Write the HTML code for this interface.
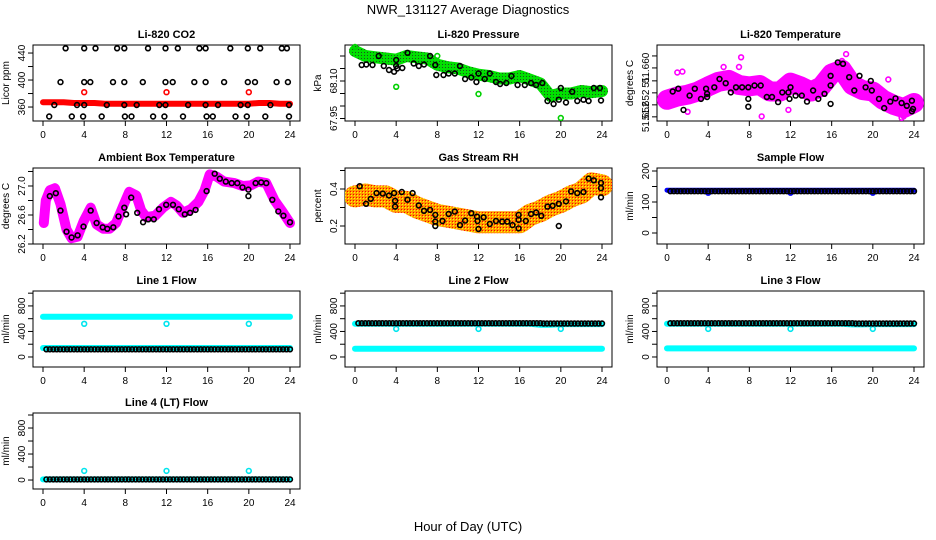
<!DOCTYPE html>
<html><head><meta charset="utf-8"><style>
html,body{margin:0;padding:0;background:#fff;}
svg{display:block;font-family:"Liberation Sans",Arial,sans-serif;}
</style></head><body>
<svg id="chart" width="936" height="540" viewBox="0 0 936 540">
<defs>
<pattern id="pgreen" width="3" height="3" patternUnits="userSpaceOnUse"><rect width="3" height="3" fill="#00e000"/><rect x="1" y="1" width="1" height="1" fill="#205020"/></pattern>
<pattern id="porange" width="3" height="3" patternUnits="userSpaceOnUse"><rect width="3" height="3" fill="#ff9a00"/><rect x="0" y="0" width="1" height="1" fill="#ffff00"/><rect x="2" y="2" width="1" height="1" fill="#ff0000"/></pattern>
</defs>
<text x="468" y="14" text-anchor="middle" font-size="13">NWR_131127  Average Diagnostics</text>
<text x="468" y="531" text-anchor="middle" font-size="13">Hour of Day (UTC)</text>
</svg>
<script>
// ---- data ----
const hours = [0,1,2,3,4,5,6,7,8,9,10,11,12,13,14,15,16,17,18,19,20,21,22,23,24];
const xTicks = [0,4,8,12,16,20,24];

const co2Band = [367,367,367,366,366,366,365,365,365,365,365,365,365,365,365,365,365,365,365,365,365,366,366,365,365];
const co2Hi447T = [2.2,4.0,5.1,7.2,7.9,10.2,11.9,13.1,15.2,15.8,18.2,19.9,21.1,23.2,23.7];
const co2Hi397T = [1.7,4.0,4.6,6.8,7.9,9.7,11.9,12.6,14.7,15.8,17.6,19.9,20.6,22.7,23.8];
const co2Mid363T = [1.1,3.3,4.0,6.2,7.9,9.1,11.3,11.9,14.1,15.8,17.0,19.2,19.9,22.1,23.9];
const co2Lo346T = [0.6,2.8,3.9,5.7,7.96,8.6,10.7,11.8,13.6,15.9,16.5,18.7,19.8,21.6,23.9];
const co2Levels = [447,397,363,346];
const co2OutT = [4,12,20];
const co2OutV = [382,382,382];

const presBand = [68.22,68.20,68.195,68.19,68.185,68.20,68.195,68.19,68.165,68.155,68.15,68.135,68.125,68.12,68.11,68.11,68.12,68.105,68.09,68.04,68.05,68.05,68.06,68.055,68.06];
const presT = [0.65,1.1,1.7,2.3,2.8,3.3,3.8,4.0,4.0,4.1,4.6,5.1,5.7,6.2,6.7,7.3,7.8,7.9,8.6,9.1,9.7,10.2,10.7,11.3,11.8,12.0,12.6,13.1,13.7,14.1,14.7,15.2,15.8,16.5,17.1,17.6,18.2,18.7,19.3,19.8,20.0,20.5,21.1,21.6,22.2,22.7,23.2,23.8,23.9];
const presV = [68.164,68.166,68.164,68.20,68.16,68.144,68.137,68.184,68.16,68.15,68.152,68.213,68.17,68.16,68.166,68.20,68.164,68.124,68.124,68.13,68.13,68.16,68.108,68.114,68.096,68.13,68.108,68.13,68.096,68.088,68.092,68.12,68.084,68.084,68.092,68.084,68.092,68.02,68.008,68.025,68.072,68.014,68.057,68.02,68.025,68.02,68.072,68.072,68.022];
const presOutT = [0,4,8,12,20];
const presOutV = [68.236,68.077,68.20,68.048,67.952];

const tempTicks = [51.6494,51.652,51.6546,51.6572,51.660,51.6626];
const tempTickLabels = ['51.652','51.652','','51.','51.660',''];
const tempBand = [51.6531,51.6538,51.6542,51.6549,51.6560,51.6570,51.6574,51.6563,51.6560,51.6563,51.6549,51.6549,51.6568,51.6560,51.6549,51.6560,51.6588,51.6596,51.6563,51.6552,51.6549,51.6531,51.6520,51.6513,51.6524];
const tempT = [0.55,1.1,1.6,2.2,2.7,3.3,3.8,3.9,3.9,4.6,5.1,5.7,6.2,6.7,7.3,7.9,7.9,7.9,8.5,9.1,9.7,10.2,10.8,11.2,11.8,11.9,12.0,12.5,13.1,13.6,14.2,14.7,15.3,15.9,15.9,15.9,16.6,17.1,17.7,18.2,18.7,19.3,19.8,19.9,20.6,21.1,21.7,22.2,22.8,23.3,23.8,23.9,23.8];
const tempV = [51.6549,51.6555,51.6509,51.6540,51.6555,51.6533,51.6555,51.6544,51.6537,51.6558,51.6576,51.6567,51.6547,51.6558,51.6558,51.6533,51.6516,51.6558,51.6562,51.6562,51.6537,51.6537,51.6526,51.6547,51.6547,51.6533,51.6558,51.6540,51.6540,51.6527,51.6551,51.6533,51.6544,51.6562,51.6583,51.6522,51.6612,51.6609,51.6580,51.6551,51.6583,51.6558,51.6572,51.6551,51.6533,51.6513,51.6527,51.6534,51.6524,51.6518,51.6529,51.6511,51.6506];
const tempOutT = [1.0,1.5,7.2,7.0,17.4,17.0,9.2,11.8,21.5,2.0,22.8,23.0,5.5];
const tempOutV = [51.6590,51.6592,51.6623,51.6602,51.6630,51.6615,51.6495,51.6509,51.6575,51.6505,51.6492,51.6495,51.6602];

const ambBandT = [0.08,0.27,0.66,1.16,1.7,2.28,2.78,3.36,3.94,4.63,5.21,5.87,6.45,7.1,7.8,8.38,9.07,9.54,10.04,10.9,11.66,12.43,13.0,13.6,14.36,15.1,15.7,16.2,16.87,17.6,18.6,19.4,20.2,20.9,21.7,22.5,23.2,24.0];
const ambBandV = [26.49,26.80,26.94,26.97,26.75,26.40,26.28,26.30,26.51,26.70,26.47,26.41,26.41,26.49,26.73,26.92,26.87,26.66,26.57,26.59,26.70,26.78,26.73,26.63,26.68,26.78,26.94,27.16,27.13,27.06,27.04,27.0,27.01,27.06,27.04,26.80,26.66,26.49];
const ambT = [0.66,1.24,1.7,2.28,2.78,3.36,3.94,4.63,5.21,5.8,6.25,6.83,7.34,7.9,8.07,8.57,9.15,9.73,10.23,10.77,11.27,11.97,12.63,13.2,13.78,14.29,14.83,15.9,16.68,17.18,17.76,18.34,18.88,19.38,19.96,19.96,20.66,21.2,21.7,22.28,22.86,23.36,24.0];
const ambV = [26.86,26.90,26.66,26.37,26.29,26.32,26.44,26.66,26.49,26.43,26.41,26.43,26.58,26.70,26.61,26.84,26.63,26.50,26.54,26.54,26.68,26.74,26.74,26.68,26.61,26.63,26.67,26.93,27.17,27.10,27.06,27.04,27.04,26.98,26.95,26.86,27.04,27.05,27.04,26.81,26.65,26.59,26.50];

const rhBand = [0.36,0.37,0.36,0.36,0.33,0.33,0.30,0.28,0.26,0.25,0.24,0.23,0.22,0.22,0.22,0.22,0.22,0.26,0.28,0.31,0.33,0.36,0.38,0.43,0.42];
const rhT = [0.46,1.08,1.54,2.1,2.7,3.3,3.8,3.9,3.9,4.55,5.1,5.6,6.2,6.7,7.3,7.8,7.8,7.8,8.5,9.1,9.7,10.2,10.7,11.3,11.85,11.9,12.0,12.5,13.1,13.7,14.3,14.8,15.3,15.9,15.9,15.9,16.6,17.1,17.6,18.1,18.7,19.2,19.8,19.8,20.5,21.0,21.6,22.2,22.7,23.2,23.9,23.9,23.9];
const rhV = [0.415,0.32,0.347,0.378,0.375,0.365,0.378,0.305,0.336,0.384,0.342,0.378,0.311,0.282,0.287,0.26,0.224,0.20,0.227,0.265,0.278,0.205,0.229,0.269,0.251,0.227,0.184,0.247,0.211,0.227,0.224,0.224,0.205,0.26,0.233,0.187,0.227,0.265,0.273,0.255,0.305,0.309,0.32,0.20,0.333,0.387,0.378,0.384,0.456,0.447,0.433,0.405,0.355];

const sampleBand = [138,138,138,138,138,138,138,138,138,138,138,138,138,138,138,138,138,138,138,138,138,138,138,138,138];
const sampleBlack = [135,135,135,135,135,135,135,135,135,135,135,135,135,135,135,135,135,135,135,135,135,135,135,135];
const sampleOutV = [130,130,130];

const line1BandHi = [630,630,630,630,630,630,630,630,630,630,630,630,630,630,630,630,630,630,630,630,630,630,630,630,630];
const line1BandLo = [140,140,140,140,140,140,140,140,140,140,140,140,140,140,140,140,140,140,140,140,140,140,140,140,140];
const line1Black = [120,120,120,120,120,120,120,120,120,120,120,120,120,120,120,120,120,120,120,120,120,120,120,120];
const line1OutV = [520,520,520];

const line2BandHi = [520,520,520,520,520,520,520,520,520,520,520,520,520,520,520,520,520,520,505,505,515,515,515,515,515];
const line2BandLo = [130,130,130,130,130,130,130,130,130,130,130,130,130,130,130,130,130,130,130,130,130,130,130,130,130];
const line2Black = [530,530,530,530,530,530,530,530,530,530,530,530,530,530,530,530,530,530,525,525,525,525,525,525];
const line2OutV = [440,440,440];

const line3BandHi = [520,520,520,520,520,520,520,520,520,520,520,520,520,520,520,520,520,520,510,510,515,515,515,515,515];
const line3BandLo = [135,135,135,135,135,135,135,135,135,135,135,135,135,135,135,135,135,135,135,135,135,135,135,135,135];
const line3Black = [530,530,530,530,530,530,530,530,530,530,530,530,530,530,530,530,530,530,525,525,525,525,525,525];
const line3OutV = [440,440,440];

const line4Band = [10,10,10,10,10,10,10,10,10,10,10,10,10,10,10,10,10,10,10,10,10,10,10,10,10];
const line4Black = [10,10,10,10,10,10,10,10,10,10,10,10,10,10,10,10,10,10,10,10,10,10,10,10];
const line4OutV = [140,140,140];
const outHours = [4,12,20];

// ---- drawing ----
const NS = 'http://www.w3.org/2000/svg';
const svg = document.getElementById('chart');
function el(tag, attrs, parent){const e=document.createElementNS(NS,tag);for(const k in attrs)e.setAttribute(k,attrs[k]);(parent||svg).appendChild(e);return e;}

const colX0 = [43,355,667];
const rowTop = [45,168,291,413];
const XW = 247, BH = 76;

function makePanel(name, col, row, yMin, yMax, ticks, labels, title, ylab){
  const g = el('g',{});
  
  
  const x0 = colX0[col], top = rowTop[row], bot = top + BH;
  const xs = h => x0 + h / 24 * XW;
  const ys = v => bot - (v - yMin) / (yMax - yMin) * BH;
  const box = el('rect',{x:x0-10,y:top,width:XW+20,height:BH,fill:'none',stroke:'#000','stroke-width':1},g);
  
  
  const t = el('text',{x:x0+XW/2,y:top-7,'text-anchor':'middle','font-size':11,'font-weight':'bold'},g);
  t.textContent = title;
  
  
  const yl = el('text',{x:0,y:0,'text-anchor':'middle','font-size':10,transform:`translate(${x0-34},${(top+bot)/2}) rotate(-90)`},g);
  yl.textContent = ylab;
  
  
  const xa = el('g',{},g);
  
  
  el('line',{x1:xs(0),x2:xs(24),y1:bot,y2:bot,stroke:'#000'},xa);
  xTicks.forEach(h=>{
    el('line',{x1:xs(h),x2:xs(h),y1:bot,y2:bot+5,stroke:'#000'},xa);
    const tl = el('text',{x:xs(h),y:bot+17,'text-anchor':'middle','font-size':10},xa);
    tl.textContent = h;
  });
  const ya = el('g',{},g);
  
  
  ticks.forEach((v,i)=>{
    const y = ys(v);
    el('line',{x1:x0-10,x2:x0-15,y1:y,y2:y,stroke:'#000'},ya);
    if(labels[i]){
      const tl = el('text',{x:0,y:0,'text-anchor':'middle','font-size':10,transform:`translate(${x0-18},${y}) rotate(-90)`},ya);
      tl.textContent = labels[i];
    }
  });
  const clip = 'clip-' + name;
  const cp = el('clipPath',{id:clip},g);
  el('rect',{x:x0-10,y:top-8,width:XW+20,height:BH+8},cp);
  const data = el('g',{'clip-path':`url(#${clip})`},g);
  return {g:data, xs, ys};
}
function band(p, ts, vs, stroke, w, name){
  const d = ts.map((t,i)=>(i?'L':'M')+p.xs(t).toFixed(1)+','+p.ys(vs[i]).toFixed(1)).join('');
  const e = el('path',{d, fill:'none', stroke, 'stroke-width':w, 'stroke-linejoin':'round','stroke-linecap':'round'},p.g);
  
  
}
function dots(p, ts, vs, color, name){
  const gg = el('g',{},p.g);
  
  
  ts.forEach((t,i)=>{
    const c = el('circle',{cx:p.xs(t).toFixed(1),cy:p.ys(vs[i]).toFixed(1),r:2.4,fill:'none',stroke:color,'stroke-width':1.6},gg);
    
    
  });
}
function hourlyDots(p, vals, color, name){
  const ts=[], vs=[];
  vals.forEach((v,h)=>{ [0.5,0.83,1.17].forEach(o=>{ const t=h+o-0.17; if(t<=24){ts.push(t); vs.push(v);} }); });
  dots(p, ts, vs, color, name);
}

let p = makePanel('co2-panel',0,0,339.3,451.9,[360,380,400,420,440],['360','','400','','440'],'Li-820 CO2','Licor ppm');
band(p,hours,co2Band,'#ff0000',6,'co2-red-band');
dots(p,co2OutT,co2OutV,'#ff0000','co2-red-outliers');
dots(p,co2Hi447T,co2Hi447T.map(()=>co2Levels[0]),'#000','co2-black-447');
dots(p,co2Hi397T,co2Hi397T.map(()=>co2Levels[1]),'#000','co2-black-397');
dots(p,co2Mid363T,co2Mid363T.map(()=>co2Levels[2]),'#000','co2-black-363');
dots(p,co2Lo346T,co2Lo346T.map(()=>co2Levels[3]),'#000','co2-black-346');

p = makePanel('pressure-panel',1,0,67.94,68.244,[67.95,68.0,68.05,68.10,68.15,68.20],['67.95','','','68.10','',''],'Li-820 Pressure','kPa');
band(p,hours,presBand,'url(#pgreen)',12,'pressure-green-band');
dots(p,presOutT,presOutV,'#00d000','pressure-green-outliers');
dots(p,presT,presV,'#000','pressure-black-points');

p = makePanel('temperature-panel',2,0,51.6485,51.66497,tempTicks,tempTickLabels,'Li-820 Temperature','degrees C');
band(p,hours,tempBand,'#ff00ff',20,'temperature-magenta-band');
dots(p,tempOutT,tempOutV,'#ff00ff','temperature-magenta-outliers');
dots(p,tempT,tempV,'#000','temperature-black-points');

p = makePanel('ambient-temp-panel',0,1,26.2,27.248,[26.2,26.4,26.6,26.8,27.0,27.2],['26.2','','26.6','','27.0',''],'Ambient Box Temperature','degrees C');
band(p,ambBandT,ambBandV,'#ff00ff',10,'ambient-magenta-band');
dots(p,ambT,ambV,'#000','ambient-black-points');

p = makePanel('rh-panel',1,1,0.1027,0.5135,[0.2,0.3,0.4,0.5],['0.2','','0.4',''],'Gas Stream RH','percent');
band(p,hours,rhBand,'url(#porange)',22,'rh-orange-band');
dots(p,rhT,rhV,'#000','rh-black-points');

p = makePanel('sample-flow-panel',2,1,-35.5,209.7,[0,50,100,150,200],['0','','100','','200'],'Sample Flow','ml/min');
band(p,hours,sampleBand,'#0000ff',5,'sample-blue-band');
dots(p,outHours,sampleOutV,'#0000ff','sample-blue-outliers');
hourlyDots(p,sampleBlack,'#000','sample-black-points');

const flowTicks=[0,200,400,600,800,1000], flowLabels=['0','','400','','800',''];
p = makePanel('line1-flow-panel',0,2,-157,1034,flowTicks,flowLabels,'Line 1 Flow','ml/min');
band(p,hours,line1BandHi,'#00ffff',6,'line1-cyan-high-band');
band(p,hours,line1BandLo,'#00ffff',6,'line1-cyan-low-band');
dots(p,outHours,line1OutV,'#00e5ee','line1-cyan-outliers');
hourlyDots(p,line1Black,'#000','line1-black-points');

p = makePanel('line2-flow-panel',1,2,-157,1034,flowTicks,flowLabels,'Line 2 Flow','ml/min');
band(p,hours,line2BandHi,'#00ffff',6,'line2-cyan-high-band');
band(p,hours,line2BandLo,'#00ffff',6,'line2-cyan-low-band');
dots(p,outHours,line2OutV,'#00e5ee','line2-cyan-outliers');
hourlyDots(p,line2Black,'#000','line2-black-points');

p = makePanel('line3-flow-panel',2,2,-157,1034,flowTicks,flowLabels,'Line 3 Flow','ml/min');
band(p,hours,line3BandHi,'#00ffff',6,'line3-cyan-high-band');
band(p,hours,line3BandLo,'#00ffff',6,'line3-cyan-low-band');
dots(p,outHours,line3OutV,'#00e5ee','line3-cyan-outliers');
hourlyDots(p,line3Black,'#000','line3-black-points');

p = makePanel('line4-flow-panel',0,3,-138,1031,flowTicks,flowLabels,'Line 4 (LT) Flow','ml/min');
band(p,hours,line4Band,'#00ffff',6,'line4-cyan-band');
dots(p,outHours,line4OutV,'#00e5ee','line4-cyan-outliers');
hourlyDots(p,line4Black,'#000','line4-black-points');
</script>
</body></html>
